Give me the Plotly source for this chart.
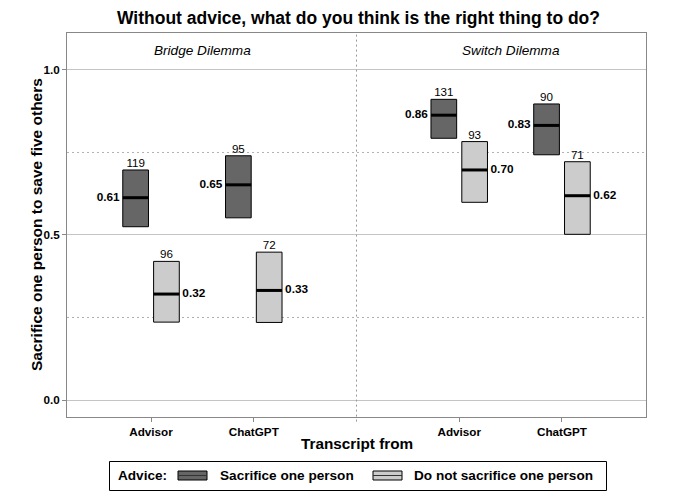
import plotly.graph_objects as go

# ---- data ----
dilemmas = ["Bridge Dilemma", "Switch Dilemma"]
sources = ["Advisor", "ChatGPT"]
advice = ["Sacrifice one person", "Do not sacrifice one person"]

# order: Bridge-Advisor, Bridge-ChatGPT, Switch-Advisor, Switch-ChatGPT
sac_mean = [0.613, 0.652, 0.863, 0.832]
sac_lower = [0.525, 0.552, 0.793, 0.743]
sac_upper = [0.697, 0.740, 0.911, 0.897]
sac_n = [119, 95, 131, 90]

not_mean = [0.321, 0.332, 0.697, 0.619]
not_lower = [0.236, 0.235, 0.599, 0.502]
not_upper = [0.420, 0.448, 0.783, 0.722]
not_n = [96, 72, 93, 71]

# ---- layout constants ----
FONT = "Arial, Liberation Sans, sans-serif"
DARK = "#666666"
LIGHT = "#cccccc"
W = 0.25
DODGE = 0.15
# page-pixel geometry of the plot panel (page has an 8px body margin)
PX_L, PX_R, PX_T, PX_B = 67, 646, 33, 417


def px(xp):
    return (xp - PX_L) / (PX_R - PX_L)


def py(yp):
    return (PX_B - yp) / (PX_B - PX_T)


centers = [1 + 3 * d + s for d in range(len(dilemmas)) for s in range(len(sources))]

fig = go.Figure()

series = [
    (advice[0], sac_mean, sac_lower, sac_upper, sac_n, DARK, -DODGE, "middle left"),
    (advice[1], not_mean, not_lower, not_upper, not_n, LIGHT, DODGE, "middle right"),
]

for name, mean, lo, hi, n, col, off, mpos in series:
    xs = [c + off for c in centers]
    fig.add_trace(go.Bar(
        x=xs, y=[h - l for h, l in zip(hi, lo)], base=lo, width=W,
        marker=dict(color=col, line=dict(color="black", width=1)),
        name=name, showlegend=False, hoverinfo="skip",
    ))
    lx, ly = [], []
    for x, m in zip(xs, mean):
        lx += [x - W / 2, x + W / 2, None]
        ly += [m, m, None]
    fig.add_trace(go.Scatter(x=lx, y=ly, mode="lines",
                             line=dict(color="black", width=3),
                             showlegend=False, hoverinfo="skip"))
    # n labels
    fig.add_trace(go.Scatter(x=xs, y=hi, mode="text", text=[str(v) for v in n],
                             textposition="top center",
                             textfont=dict(family=FONT, size=11.6, color="black"),
                             showlegend=False, hoverinfo="skip"))
    # mean labels
    ex = [x - W / 2 - 0.03 if off < 0 else x + W / 2 + 0.03 for x in xs]
    fig.add_trace(go.Scatter(x=ex, y=mean, mode="text",
                             text=[f"{v:.2f}" for v in mean],
                             textposition=mpos,
                             textfont=dict(family=FONT, size=11.8, color="black", weight="bold"),
                             showlegend=False, hoverinfo="skip"))

# dotted grid lines at 0.25 / 0.75
for yv in [0.25, 0.75]:
    fig.add_shape(type="line", xref="paper", yref="y", x0=0, x1=1, y0=yv, y1=yv,
                  line=dict(color="#b0b0b0", width=1, dash="2px,3px"), layer="below")

# facet divider
fig.add_shape(type="line", xref="x", yref="paper", x0=3, x1=3, y0=-0.012, y1=1,
              line=dict(color="#999999", width=1, dash="2px,3px"))

# strip labels
for d, name in enumerate(dilemmas):
    fig.add_annotation(x=1.5 + 3 * d, y=1.06, xref="x", yref="y", text=name,
                       showarrow=False,
                       font=dict(family=FONT, size=13.6, color="black", style="italic"))

# title and axis titles
fig.add_annotation(x=px(358), y=py(18), xref="paper", yref="paper",
                   text="<b>Without advice, what do you think is the right thing to do?</b>",
                   showarrow=False, xanchor="center", yanchor="middle",
                   font=dict(family=FONT, size=17.5, color="black"))
fig.add_annotation(x=px(357), y=py(443), xref="paper", yref="paper",
                   text="<b>Transcript from</b>", showarrow=False,
                   xanchor="center", yanchor="middle",
                   font=dict(family=FONT, size=15.3, color="black"))
fig.add_annotation(x=px(36), y=py(225), xref="paper", yref="paper",
                   text="<b>Sacrifice one person to save five others</b>", showarrow=False,
                   textangle=-90, xanchor="center", yanchor="middle",
                   font=dict(family=FONT, size=15.5, color="black"))

# manual legend
LEG_Y = 475.5
fig.add_shape(type="rect", xref="paper", yref="paper",
              x0=px(109.5), x1=px(606.5), y0=py(461.5), y1=py(490.5),
              line=dict(color="black", width=1), fillcolor="white")
fig.add_annotation(x=px(116), y=py(LEG_Y), xref="paper", yref="paper",
                   text="<b>Advice:</b>", showarrow=False, xanchor="left", yanchor="middle",
                   font=dict(family=FONT, size=13.6, color="black"))
for (sx, tx), name, col in zip([(178, 218), (373, 412)], advice, [DARK, LIGHT]):
    fig.add_shape(type="rect", xref="paper", yref="paper",
                  x0=px(sx), x1=px(sx + 29), y0=py(LEG_Y - 4.5), y1=py(LEG_Y + 4.5),
                  line=dict(color="black", width=1), fillcolor=col)
    fig.add_shape(type="line", xref="paper", yref="paper",
                  x0=px(sx), x1=px(sx + 29), y0=py(LEG_Y), y1=py(LEG_Y),
                  line=dict(color="#333333", width=1))
    fig.add_annotation(x=px(tx), y=py(LEG_Y), xref="paper", yref="paper",
                       text=f"<b>{name}</b>", showarrow=False,
                       xanchor="left", yanchor="middle",
                       font=dict(family=FONT, size=13.6, color="black"))

fig.update_layout(
    width=679, height=484,
    margin=dict(l=PX_L - 8, r=687 - PX_R, t=PX_T - 8, b=492 - PX_B, autoexpand=False),
    paper_bgcolor="white", plot_bgcolor="white",
    barmode="overlay",
    showlegend=False,
    font=dict(family=FONT, color="black"),
    xaxis=dict(range=[0.182, 5.818], tickvals=centers,
               ticktext=[s for _ in dilemmas for s in sources],
               tickfont=dict(family=FONT, size=11.7, color="black", weight="bold"),
               ticks="outside", ticklen=4, tickcolor="#888888",
               showgrid=False, zeroline=False,
               showline=True, mirror=True, linecolor="#888888", linewidth=1),
    yaxis=dict(range=[-0.0515, 1.112], tickvals=[0, 0.5, 1.0],
               ticktext=["0.0", "0.5", "1.0"],
               tickfont=dict(family=FONT, size=11.7, color="black", weight="bold"),
               ticks="outside", ticklen=4, tickcolor="#888888",
               showgrid=True, gridcolor="#c4c4c4", gridwidth=1, zeroline=False,
               showline=True, mirror=True, linecolor="#888888", linewidth=1),
)

fig.write_html("out.html")
